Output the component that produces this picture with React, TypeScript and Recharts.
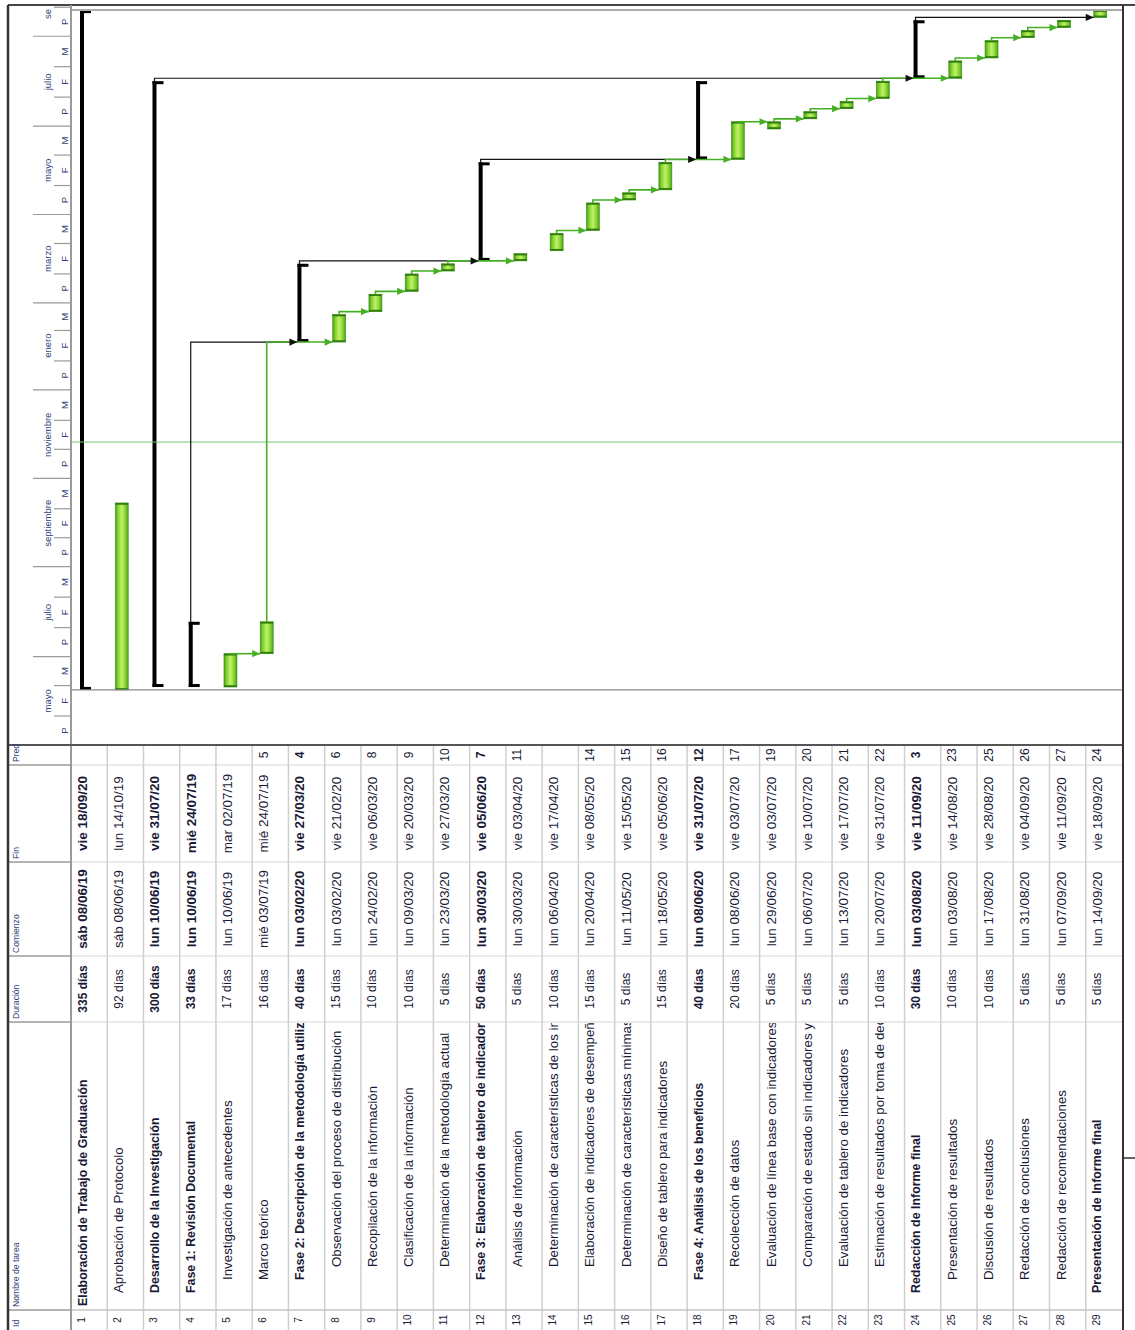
import { ComposedChart, Bar, Line, XAxis, YAxis, ReferenceLine } from 'recharts';

// Tareas del cronograma (la vista de MS Project está girada 90°)
const ids = [1, 2, 3, 4, 5, 6, 7, 8, 9, 10, 11, 12, 13, 14, 15, 16, 17, 18, 19, 20, 21, 22, 23, 24, 25, 26, 27, 28, 29];
const names = [
  'Elaboración de Trabajo de Graduación',
  'Aprobación de Protocolo',
  'Desarrollo de la Investigación',
  'Fase 1: Revisión Documental',
  'Investigación de antecedentes',
  'Marco teórico',
  'Fase 2: Descripción de la metodología utilizada',
  'Observación del proceso de distribución',
  'Recopilación de la información',
  'Clasificación de la información',
  'Determinación de la metodología actual',
  'Fase 3: Elaboración de tablero de indicadores',
  'Análisis de información',
  'Determinación de características de los indicadores',
  'Elaboración de indicadores de desempeño',
  'Determinación de características mínimas',
  'Diseño de tablero para indicadores',
  'Fase 4: Análisis de los beneficios',
  'Recolección de datos',
  'Evaluación de línea base con indicadores',
  'Comparación de estado sin indicadores y con indicadores',
  'Evaluación de tablero de indicadores',
  'Estimación de resultados por toma de decisiones',
  'Redacción de Informe final',
  'Presentación de resultados',
  'Discusión de resultados',
  'Redacción de conclusiones',
  'Redacción de recomendaciones',
  'Presentación de Informe final',
];
const durations = [
  '335 días', '92 días', '300 días', '33 días', '17 días', '16 días', '40 días', '15 días', '10 días', '10 días',
  '5 días', '50 días', '5 días', '10 días', '15 días', '5 días', '15 días', '40 días', '20 días', '5 días',
  '5 días', '5 días', '10 días', '30 días', '10 días', '10 días', '5 días', '5 días', '5 días',
];
const starts = [
  'sáb 08/06/19', 'sáb 08/06/19', 'lun 10/06/19', 'lun 10/06/19', 'lun 10/06/19', 'mié 03/07/19', 'lun 03/02/20',
  'lun 03/02/20', 'lun 24/02/20', 'lun 09/03/20', 'lun 23/03/20', 'lun 30/03/20', 'lun 30/03/20', 'lun 06/04/20',
  'lun 20/04/20', 'lun 11/05/20', 'lun 18/05/20', 'lun 08/06/20', 'lun 08/06/20', 'lun 29/06/20', 'lun 06/07/20',
  'lun 13/07/20', 'lun 20/07/20', 'lun 03/08/20', 'lun 03/08/20', 'lun 17/08/20', 'lun 31/08/20', 'lun 07/09/20',
  'lun 14/09/20',
];
const finishes = [
  'vie 18/09/20', 'lun 14/10/19', 'vie 31/07/20', 'mié 24/07/19', 'mar 02/07/19', 'mié 24/07/19', 'vie 27/03/20',
  'vie 21/02/20', 'vie 06/03/20', 'vie 20/03/20', 'vie 27/03/20', 'vie 05/06/20', 'vie 03/04/20', 'vie 17/04/20',
  'vie 08/05/20', 'vie 15/05/20', 'vie 05/06/20', 'vie 31/07/20', 'vie 03/07/20', 'vie 03/07/20', 'vie 10/07/20',
  'vie 17/07/20', 'vie 31/07/20', 'vie 11/09/20', 'vie 14/08/20', 'vie 28/08/20', 'vie 04/09/20', 'vie 11/09/20',
  'vie 18/09/20',
];
const preds = ['', '', '', '', '', '5', '4', '6', '8', '9', '10', '7', '11', '', '14', '15', '16', '12', '17', '19', '20', '21', '22', '3', '23', '25', '26', '27', '24'];
const outlineLevels = [1, 2, 2, 2, 3, 3, 3, 4, 4, 4, 4, 3, 4, 4, 4, 4, 4, 3, 4, 4, 4, 4, 4, 2, 3, 3, 3, 3, 2];
const summaryIds = [1, 3, 4, 7, 12, 18, 24];
const boldNameIds = [1, 3, 4, 7, 12, 18, 24, 29];

// Escala de tiempo: meses (cada 2) y tercios
const majorTickDates = ['01/05/19', '01/07/19', '01/09/19', '01/11/19', '01/01/20', '01/03/20', '01/05/20', '01/07/20', '01/09/20'];
const monthLabels = ['mayo', 'julio', 'septiembre', 'noviembre', 'enero', 'marzo', 'mayo', 'julio', 'se'];
const thirdLabels = ['P', 'F', 'M'];
const projectStart = '08/06/19';
const statusDate = '26/11/19';

const EPOCH = Date.UTC(2019, 4, 1);
const MS_DAY = 86400000;
const toDay = (s: string) => {
  const [d, m, y] = s.trim().split(' ').pop()!.split('/').map(Number);
  return (Date.UTC(2000 + y, m - 1, d) - EPOCH) / MS_DAY;
};
const DOMAIN_MAX = 507.1;

// layout
const W = 1135;
const H = 1330;
const PLOT_L = 71;
const PLOT_R = 1122;
const PLOT_T = 10;
const TABLE_T = 745;
const BAND = (PLOT_R - PLOT_L) / ids.length;
const COLS = { pred: 765, fin: 862, com: 956, dur: 1022, name: 1310 };
const FONT = 'Liberation Sans, Arial, sans-serif';
const TEXT = '#1a1a36';
const HEAD = '#34407a';
const GREEN = '#45b025';

const rows = ids.map((id, i) => ({
  id,
  name: names[i],
  duration: durations[i],
  start: starts[i],
  finish: finishes[i],
  pred: preds[i],
  level: outlineLevels[i],
  summary: summaryIds.includes(id),
  range: [toDay(starts[i]), toDay(finishes[i]) + 1],
}));

// vínculos fin-comienzo, en unidades de fila del eje numérico
const links = rows
  .filter((r) => r.pred)
  .map((r) => {
    const p = rows[Number(r.pred) - 1];
    const x1 = p.id - 1 + (p.summary ? 11 : 14.5) / BAND;
    const x2 = r.id - 1 + (r.summary ? 9 : 8) / BAND;
    const yEnd = p.range[1];
    const yh = Math.max(yEnd, r.range[0]);
    return {
      key: `${p.id}-${r.id}`,
      color: p.summary ? '#111' : GREEN,
      pts: [
        { x: x1, y: yEnd },
        { x: x1, y: yh },
        { x: x2, y: yh },
      ],
    };
  });

type TickInfo = { kind: 'major' | 'minor' | 'label'; text?: string; month?: string };
const tickInfo = new Map<number, TickInfo>();
majorTickDates.forEach((ds, k) => {
  const [, m, y] = ds.split('/').map(Number);
  const yr = 2000 + y;
  const b = [Date.UTC(yr, m - 1, 1), Date.UTC(yr, m - 1, 21), Date.UTC(yr, m, 11), Date.UTC(yr, m + 1, 1)].map(
    (t) => (t - EPOCH) / MS_DAY,
  );
  tickInfo.set(b[0], { kind: 'major' });
  tickInfo.set(b[1], { kind: 'minor' });
  tickInfo.set(b[2], { kind: 'minor' });
  thirdLabels.forEach((t, j) =>
    tickInfo.set((b[j] + b[j + 1]) / 2, { kind: 'label', text: t, month: j === 1 ? monthLabels[k] : undefined }),
  );
});
const timeTicks = [...tickInfo.keys()].sort((a, b) => a - b);

const rot = (x: number, y: number) => `translate(${x},${y}) rotate(-90)`;

const renderTimeTick = (props: any) => {
  const { y, payload } = props;
  const info = tickInfo.get(payload.value);
  if (!info) return <g />;
  if (info.kind === 'major') return <line x1={33} x2={PLOT_L} y1={y} y2={y} stroke="#9a9a9a" strokeWidth={1.2} />;
  if (info.kind === 'minor') return <line x1={54} x2={PLOT_L} y1={y} y2={y} stroke="#9a9a9a" strokeWidth={1.2} />;
  const inside = y > PLOT_T + 4;
  return (
    <g>
      {inside && (
        <text transform={rot(64, y)} textAnchor="middle" dominantBaseline="central" fontSize={9.5} fontFamily={FONT} fill={HEAD}>
          {info.text}
        </text>
      )}
      {info.month && (
        <text
          transform={rot(47, inside ? y : PLOT_T + 9)}
          textAnchor={inside ? 'middle' : 'start'}
          dominantBaseline="central"
          fontSize={9.5}
          fontFamily={FONT}
          fill={HEAD}
        >
          {info.month}
        </text>
      )}
    </g>
  );
};

const cell = (x: number, y: number, txt: string, bold: boolean, size: number, anchor = 'middle') => (
  <text
    transform={rot(x, y)}
    textAnchor={anchor}
    dominantBaseline="central"
    fontSize={size}
    fontWeight={bold ? 'bold' : 'normal'}
    fontFamily={FONT}
    fill={TEXT}
  >
    {txt}
  </text>
);

const renderTableTick = (props: any) => {
  const { x, payload } = props;
  const r = rows.find((row) => row.id === payload.value);
  if (!r) return <g />;
  const bx = x - BAND / 2;
  const tx = bx + 11.5;
  const b = r.summary;
  const seg = (yy: number, c: string) => <line x1={bx} x2={bx + BAND} y1={yy} y2={yy} stroke={c} strokeWidth={1.2} />;
  return (
    <g>
      <line x1={bx} x2={bx} y1={TABLE_T} y2={H} stroke="#cfcfcf" strokeWidth={1.5} />
      {seg(COLS.pred, '#d6d6d6')}
      {seg(COLS.fin, '#d6d6d6')}
      {seg(COLS.com, '#d6d6d6')}
      {seg(COLS.dur, '#d6d6d6')}
      {seg(COLS.name, '#a8a8a8')}
      {cell(tx, (TABLE_T + COLS.pred) / 2, r.pred, b, 12)}
      {cell(tx, (COLS.pred + COLS.fin) / 2, r.finish, b, 13.5)}
      {cell(tx, (COLS.fin + COLS.com) / 2, r.start, b, 13.5)}
      {cell(tx, (COLS.com + COLS.dur) / 2, r.duration, b, 12)}
      <g clipPath="url(#nameClip)">
        {cell(tx, 1306 - 13 * (r.level - 1), r.name, boldNameIds.includes(r.id), boldNameIds.includes(r.id) ? 12.4 : 13.3, 'start')}
      </g>
      {cell(tx - 1, 1320, String(r.id), false, 10)}
    </g>
  );
};

const renderTask = (props: any) => {
  const { x, y, height, payload } = props;
  if (payload.summary) {
    const lx = x + 9;
    return (
      <g>
        <rect x={lx} y={y} width={4} height={height} fill="#000" />
        <rect x={lx} y={y} width={11} height={3} fill="#000" />
        <rect x={lx} y={y + height - 3} width={11} height={3} fill="#000" />
      </g>
    );
  }
  const bx = x + 8;
  const w = 13;
  return (
    <g>
      <rect x={bx} y={y} width={w} height={height} fill="url(#barGrad)" stroke="#3f9418" strokeWidth={0.6} />
      <rect x={bx} y={y} width={w} height={1.8} fill="#2e7d0e" />
      <rect x={bx} y={y + height - 1.8} width={w} height={1.8} fill="#2e7d0e" />
    </g>
  );
};

const arrowDot = (color: string) => (p: any) => {
  if (p.index !== 2) return <g key={`n${p.index}`} />;
  const { cx, cy } = p;
  return <polygon key="a" points={`${cx},${cy} ${cx - 8},${cy - 3.6} ${cx - 8},${cy + 3.6}`} fill={color} />;
};

function Frame() {
  const head = (y: number, t: string) => (
    <text transform={rot(16, y)} textAnchor="start" dominantBaseline="central" fontSize={8.6} fontFamily={FONT} fill={HEAD}>
      {t}
    </text>
  );
  return (
    <svg width={W} height={H} style={{ position: 'absolute', left: 0, top: 0, pointerEvents: 'none' }}>
      <line x1={8} x2={W} y1={5} y2={5} stroke="#444" strokeWidth={2} />
      <line x1={PLOT_L} x2={PLOT_R} y1={PLOT_T} y2={PLOT_T} stroke="#ababab" strokeWidth={2} />
      <line x1={PLOT_L} x2={PLOT_L} y1={5} y2={H} stroke="#9a9a9a" strokeWidth={2} />
      <line x1={8} x2={PLOT_R} y1={TABLE_T} y2={TABLE_T} stroke="#555" strokeWidth={2} />
      {[COLS.pred, COLS.fin, COLS.com, COLS.dur, COLS.name].map((yy) => (
        <line key={yy} x1={8} x2={PLOT_L} y1={yy} y2={yy} stroke="#9a9a9a" strokeWidth={1.5} />
      ))}
      <line x1={8} x2={8} y1={5} y2={H} stroke="#333" strokeWidth={2.5} />
      <line x1={PLOT_R + 1} x2={PLOT_R + 1} y1={5} y2={H} stroke="#333" strokeWidth={2} />
      <line x1={PLOT_R + 1} x2={W} y1={1158} y2={1158} stroke="#333" strokeWidth={1.5} />
      {head(COLS.pred - 3, 'Pred')}
      {head(COLS.fin - 3, 'Fin')}
      {head(COLS.com - 3, 'Comienzo')}
      {head(COLS.dur - 3, 'Duración')}
      {head(COLS.name - 3, 'Nombre de tarea')}
      {head(H - 3, 'Id')}
    </svg>
  );
}

export default function App() {
  return (
    <div style={{ position: 'absolute', left: 0, top: 0, width: W, height: H, background: '#fff' }}>
      <ComposedChart
        width={W}
        height={H}
        data={rows}
        margin={{ top: PLOT_T, right: W - PLOT_R, bottom: 0, left: 8 }}
        barCategoryGap={0}
        barGap={0}
      >
        <defs>
          <linearGradient id="barGrad" x1="0" y1="0" x2="1" y2="0">
            <stop offset="0%" stopColor="#4a9f1c" />
            <stop offset="22%" stopColor="#86d42e" />
            <stop offset="50%" stopColor="#c2f06e" />
            <stop offset="78%" stopColor="#86d42e" />
            <stop offset="100%" stopColor="#4a9f1c" />
          </linearGradient>
          <clipPath id="nameClip">
            <rect x={0} y={COLS.dur + 1} width={W} height={COLS.name - COLS.dur - 2} />
          </clipPath>
        </defs>
        <XAxis
          xAxisId="task"
          dataKey="id"
          type="category"
          height={H - TABLE_T}
          interval={0}
          tick={renderTableTick}
          tickLine={false}
          axisLine={false}
        />
        <XAxis xAxisId="pos" dataKey="x" type="number" domain={[0, ids.length]} allowDataOverflow hide />
        <YAxis
          yAxisId="t"
          type="number"
          domain={[0, DOMAIN_MAX]}
          allowDataOverflow
          ticks={timeTicks}
          interval={0}
          width={PLOT_L - 8}
          tick={renderTimeTick}
          tickLine={false}
          axisLine={false}
        />
        <ReferenceLine xAxisId="task" yAxisId="t" y={toDay(projectStart)} stroke="#8a8a8a" strokeWidth={1.2} />
        <ReferenceLine xAxisId="task" yAxisId="t" y={toDay(statusDate)} stroke="#76c476" strokeWidth={1} />
        <Bar xAxisId="task" yAxisId="t" dataKey="range" shape={renderTask} isAnimationActive={false} />
        {links.map((lk) => (
          <Line
            key={lk.key}
            xAxisId="pos"
            yAxisId="t"
            data={lk.pts}
            dataKey="y"
            type="linear"
            stroke={lk.color}
            strokeWidth={lk.color === GREEN ? 1.6 : 1.2}
            dot={arrowDot(lk.color)}
            activeDot={false}
            legendType="none"
            isAnimationActive={false}
          />
        ))}
      </ComposedChart>
      <Frame />
    </div>
  );
}
